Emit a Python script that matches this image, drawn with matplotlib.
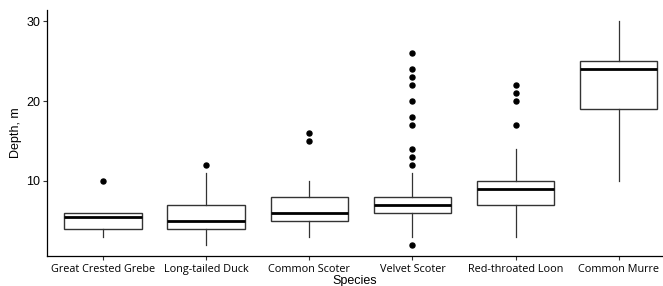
import matplotlib
matplotlib.use("Agg")
from matplotlib import pyplot as plt

species = ["Great Crested Grebe", "Long-tailed Duck", "Common Scoter",
           "Velvet Scoter", "Red-throated Loon", "Common Murre"]
q1 = [4, 4, 5, 6, 7, 19]
med = [5.5, 5, 6, 7, 9, 24]
q3 = [6, 7, 8, 8, 10, 25]
whislo = [3, 2, 3, 3, 3, 10]
whishi = [6, 11, 10, 11, 14, 30]
fliers = [
    [10],
    [12],
    [15, 16],
    [2, 12, 13, 14, 17, 18, 20, 22, 23, 24, 26],
    [17, 20, 21, 22],
    [],
]

stats = []
for i, name in enumerate(species):
    stats.append(dict(label=name, q1=q1[i], med=med[i], q3=q3[i],
                      whislo=whislo[i], whishi=whishi[i], fliers=fliers[i]))

fig = plt.figure(figsize=(6.63, 2.86), dpi=100)
ax = fig.add_axes([47 / 663, 30 / 286, 1 - 47 / 663, 246 / 286])

edge = "#333333"
ax.bxp(stats, positions=range(1, 7), widths=0.75, showcaps=False,
       patch_artist=True,
       boxprops=dict(facecolor="white", edgecolor=edge, linewidth=1.0),
       whiskerprops=dict(color=edge, linewidth=0.9),
       medianprops=dict(color="black", linewidth=2.0, solid_capstyle="butt"),
       flierprops=dict(marker="o", markerfacecolor="black", markeredgecolor="black",
                       markersize=3.6, linestyle="none"))

ax.set_xlim(0.457, 6.43)
ax.set_ylim(0.6, 31.4)
ax.set_yticks([10, 20, 30])

for side in ["top", "right"]:
    ax.spines[side].set_visible(False)
for side in ["left", "bottom"]:
    ax.spines[side].set_color("black")
    ax.spines[side].set_linewidth(0.9)

ax.tick_params(axis="both", length=3, width=0.8, color="#333333")
ax.tick_params(axis="y", labelsize=9, pad=2)
ax.tick_params(axis="x", labelsize=7.8, pad=3)
for lab in ax.get_yticklabels():
    lab.set_family("Liberation Sans")
for lab in ax.get_xticklabels():
    lab.set_family("Open Sans")

ax.set_ylabel("Depth, m", family="Liberation Sans", fontsize=9, labelpad=3)
ax.set_xlabel("Species", family="Liberation Sans", fontsize=9, labelpad=0)

fig.savefig("out.png", dpi=100)
